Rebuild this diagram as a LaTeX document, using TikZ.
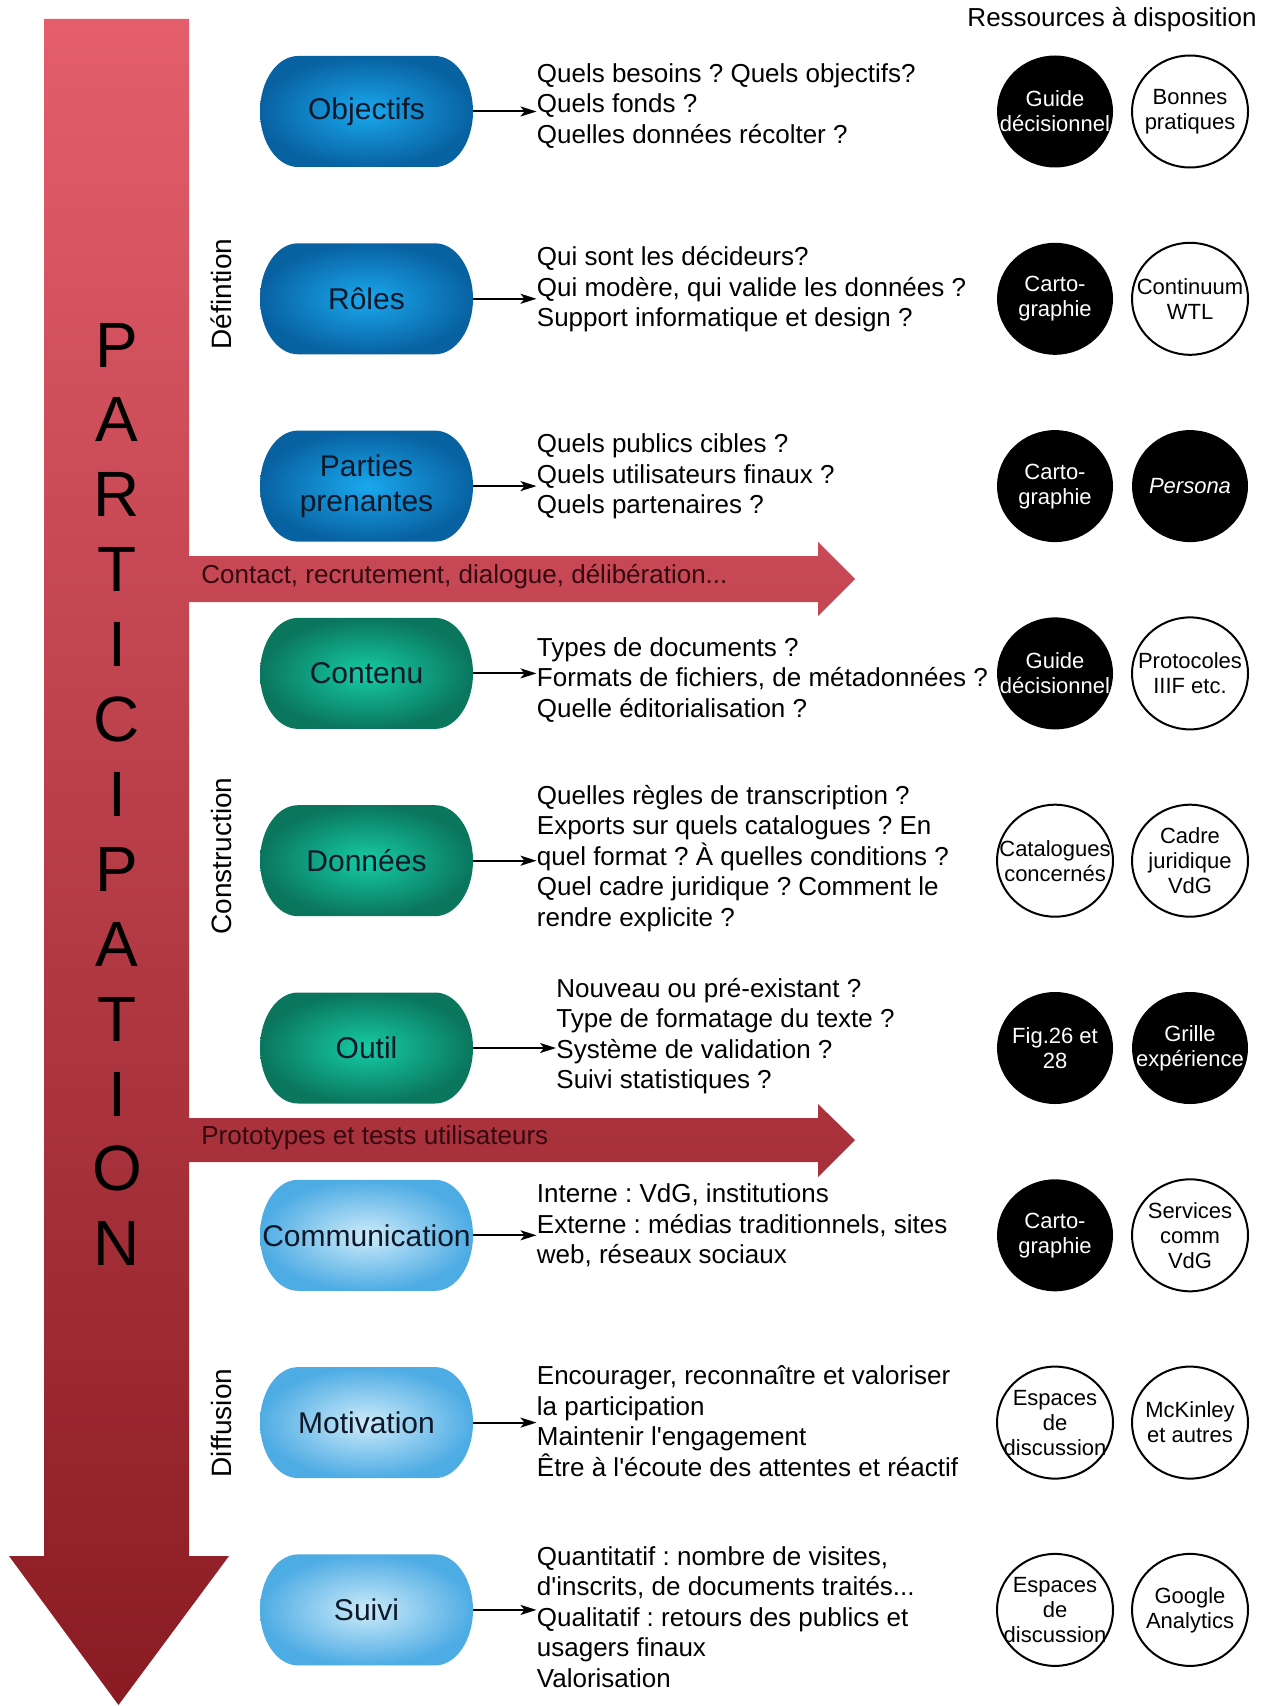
\documentclass[tikz,border=0pt]{standalone}
\usepackage{fontspec}
\setmainfont{Liberation Sans}[Ligatures=TeXOff]
\usetikzlibrary{shapes.geometric,arrows.meta}
\definecolor{redtop}{RGB}{228,94,108}
\definecolor{redbot}{RGB}{138,27,35}
\definecolor{defin}{RGB}{26,168,238}
\definecolor{defout}{RGB}{8,98,162}
\definecolor{conin}{RGB}{22,204,164}
\definecolor{conout}{RGB}{10,118,94}
\definecolor{difin}{RGB}{205,235,250}
\definecolor{difout}{RGB}{78,172,228}
\definecolor{pilltext}{RGB}{14,24,40}
\definecolor{bandtext}{RGB}{52,10,16}
\begin{document}
\frenchspacing
\begin{tikzpicture}[x=0.5pt,y=-0.5pt,
  pill/.style 2 args={minimum width=106.5pt, minimum height=55.5pt,
    inner sep=0pt, align=center, text=pilltext,
    font=\fontsize{15}{17.5}\selectfont,
    path picture={
      \shade[inner color=#1, outer color=#2]
        ([xshift=19pt]path picture bounding box.north west)
        -- ([xshift=-19pt]path picture bounding box.north east)
        arc[start angle=90, end angle=-90, x radius=19pt, y radius=27.75pt]
        -- ([xshift=19pt]path picture bounding box.south west)
        arc[start angle=270, end angle=90, x radius=19pt, y radius=27.75pt]
        -- cycle;}},
  defpill/.style={pill={defin}{defout}},
  conpill/.style={pill={conin}{conout}},
  difpill/.style={pill={difin}{difout}},
  qtext/.style={anchor=west, inner sep=0pt, align=left,
    font=\fontsize{13}{15.25}\selectfont},
  res/.style={ellipse, minimum width=58pt, minimum height=56pt,
    inner xsep=-9pt, inner ysep=-1pt,
    align=center, font=\fontsize{11}{12.5}\selectfont},
  resblack/.style={res, fill=black, text=white},
  reswhite/.style={res, draw=black, line width=1pt, fill=white},
  link/.style={-{Stealth[length=8pt,width=5pt,inset=2pt]}, line width=1pt},
  letter/.style={inner sep=0pt, font=\fontsize{32}{32}\selectfont},
  section/.style={rotate=90, inner sep=0pt, font=\fontsize{14}{16}\selectfont},
  bandlabel/.style={anchor=west, inner sep=0pt, text=bandtext,
    font=\fontsize{13}{15}\selectfont}
]
\useasboundingbox (0,0) rectangle (1271,1706);

% main red arrow with two side arrows
\shade[top color=redtop, bottom color=redbot]
  (44,19) -- (189,19) -- (189,556) -- (818,556) -- (818,542) -- (855,579)
  -- (818,616) -- (818,602) -- (189,602) -- (189,1118) -- (818,1118)
  -- (818,1104) -- (855,1140) -- (818,1177) -- (818,1162) -- (189,1162)
  -- (189,1556) -- (229,1556) -- (118.5,1705) -- (9,1556) -- (44,1556) -- cycle;

\node[bandlabel] (b1) at (201,577) {Contact, recrutement, dialogue, délibération...};
\node[bandlabel] (b2) at (201,1138) {Prototypes et tests utilisateurs};

% PARTICIPATION
\foreach \l [count=\i from 0] in {P,A,R,T,I,C,I,P,A,T,I,O,N}
  \node[letter] (L\i) at (117,345+74.9*\i) {\l};

% section labels
\node[section] (s1) at (221,294) {Défintion};
\node[section] (s2) at (221,856) {Construction};
\node[section] (s3) at (221,1423) {Diffusion};

% header
\node[inner sep=0pt, font=\fontsize{13}{15}\selectfont] (hdr) at (1112,20) {Ressources à disposition};

% pills
\node[defpill] (p1) at (366.5,111.5) {Objectifs};
\node[defpill] (p2) at (366.5,298.8) {Rôles};
\node[defpill] (p3) at (366.5,486.1) {Parties\\prenantes};
\node[conpill] (p4) at (366.5,673.4) {Contenu};
\node[conpill] (p5) at (366.5,860.7) {Données};
\node[conpill] (p6) at (366.5,1048) {Outil};
\node[difpill] (p7) at (366.5,1235.3) {Communication};
\node[difpill] (p8) at (366.5,1422.6) {Motivation};
\node[difpill] (p9) at (366.5,1609.9) {Suivi};

% question texts
\node[qtext] (t1) at (536.5,105.6) {Quels besoins ? Quels objectifs?\\Quels fonds ?\\Quelles données récolter ?};
\node[qtext] (t2) at (536.5,289.5) {Qui sont les décideurs?\\Qui modère, qui valide les données ?\\Support informatique et design ?};
\node[qtext] (t3) at (536.5,476.6) {Quels publics cibles ?\\Quels utilisateurs finaux ?\\Quels partenaires ?};
\node[qtext] (t4) at (536.5,679.6) {Types de documents ?\\Formats de fichiers, de métadonnées ?\\Quelle éditorialisation ?};
\node[qtext] (t5) at (536.5,858.6) {Quelles règles de transcription ?\\Exports sur quels catalogues ? En\\quel format ? À quelles conditions ?\\Quel cadre juridique ? Comment le\\rendre explicite ?};
\node[qtext] (t6) at (556,1036) {Nouveau ou pré-existant ?\\Type de formatage du texte ?\\Système de validation ?\\Suivi statistiques ?};
\node[qtext] (t7) at (536.5,1225.3) {Interne : VdG, institutions\\Externe : médias traditionnels, sites\\web, réseaux sociaux};
\node[qtext] (t8) at (536.5,1421) {Encourager, reconnaître et valoriser\\la participation\\Maintenir l'engagement\\Être à l'écoute des attentes et réactif};
\node[qtext] (t9) at (536.5,1617) {Quantitatif : nombre de visites,\\d'inscrits, de documents traités...\\Qualitatif : retours des publics et\\usagers finaux\\Valorisation};

% connectors
\foreach \i in {1,...,9}
  \draw[link] (p\i.east) -- (p\i.east -| t\i.west);

% resources
\node[resblack] (r1a) at (1055,111.5) {Guide\\décisionnel};
\node[reswhite] (r1b) at (1190,111.5) {Bonnes\\pratiques};
\node[resblack] (r2a) at (1055,298.8) {Carto-\\graphie};
\node[reswhite] (r2b) at (1190,298.8) {Continuum\\WTL};
\node[resblack] (r3a) at (1055,486.1) {Carto-\\graphie};
\node[resblack] (r3b) at (1190,486.1) {\textit{Persona}};
\node[resblack] (r4a) at (1055,673.4) {Guide\\décisionnel};
\node[reswhite] (r4b) at (1190,673.4) {Protocoles\\IIIF etc.};
\node[reswhite] (r5a) at (1055,860.7) {Catalogues\\concernés};
\node[reswhite] (r5b) at (1190,860.7) {Cadre\\juridique\\VdG};
\node[resblack] (r6a) at (1055,1048) {Fig.26 et\\28};
\node[resblack] (r6b) at (1190,1048) {Grille\\expérience};
\node[resblack] (r7a) at (1055,1235.3) {Carto-\\graphie};
\node[reswhite] (r7b) at (1190,1235.3) {Services\\comm\\VdG};
\node[reswhite] (r8a) at (1055,1422.6) {Espaces\\de\\discussion};
\node[reswhite] (r8b) at (1190,1422.6) {McKinley\\et autres};
\node[reswhite] (r9a) at (1055,1609.9) {Espaces\\de\\discussion};
\node[reswhite] (r9b) at (1190,1609.9) {Google\\Analytics};
\end{tikzpicture}
\end{document}
